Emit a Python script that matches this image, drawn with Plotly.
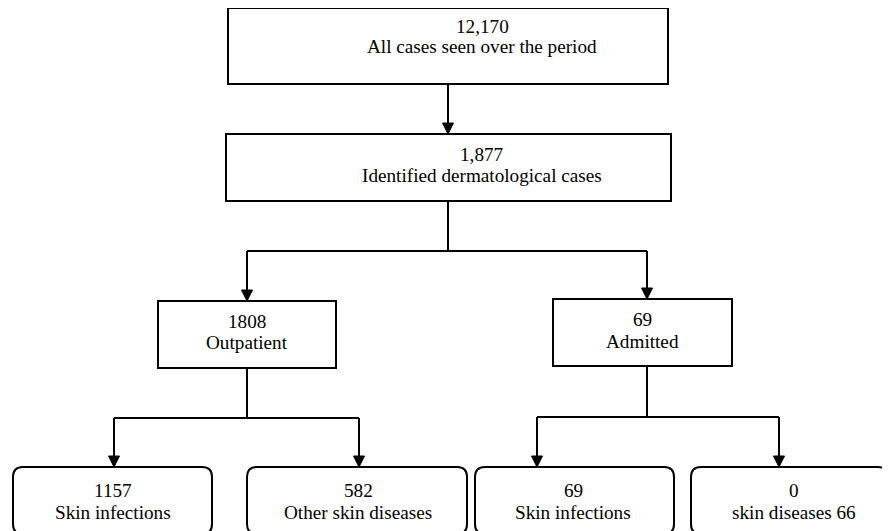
import plotly.graph_objects as go

# ---- data ----
counts = ["12,170", "1,877", "1808", "69", "1157", "582", "69", "0"]
labels = ["All cases seen over the period", "Identified dermatological cases",
          "Outpatient", "Admitted", "Skin infections", "Other skin diseases",
          "Skin infections", "skin diseases 66"]
# parent index -> child indices
links = {0: [1], 1: [2, 3], 2: [4, 5], 3: [6, 7]}

# ---- layout geometry (pixels) ----
W, H = 890, 531
OFF = 8  # page body margin
# x0, x1, y0, y1, rounded, text_x, line1_y, line2_y, arrow_in_x
geom = [
    (228, 668, 8, 84, False, 482, 26, 46, 448),
    (226, 671, 134, 201, False, 482, 154, 175, 448),
    (158, 336, 301, 368, False, 247, 321, 342, 247),
    (553, 732, 299, 366, False, 642, 319, 341, 647),
    (13, 212, 467, 534, True, 113, 490, 512, 114),
    (247, 467, 467, 534, True, 358, 490, 512, 359),
    (475, 674, 467, 534, True, 573, 490, 512, 537),
    (691, 888, 467, 534, True, 794, 490, 512, 779),
]
out_x = {0: 448, 1: 448, 2: 247, 3: 647}
bar_y = {0: None, 1: 251, 2: 418, 3: 417}

LW = 2
FONT = dict(family="Times New Roman, Liberation Serif, DejaVu Serif, serif",
            size=19.2, color="black")

shapes = []
annotations = []


def rounded_path(x0, x1, y0, y1, r=10):
    return (f"M {x0+r},{y0} L {x1-r},{y0} Q {x1},{y0} {x1},{y0+r} "
            f"L {x1},{y1-r} Q {x1},{y1} {x1-r},{y1} L {x0+r},{y1} "
            f"Q {x0},{y1} {x0},{y1-r} L {x0},{y0+r} Q {x0},{y0} {x0+r},{y0} Z")


for i, (x0, x1, y0, y1, rnd, tx, ly1, ly2, ax) in enumerate(geom):
    if rnd:
        shapes.append(dict(type="path", path=rounded_path(x0, x1, y0, y1),
                           line=dict(color="black", width=LW), fillcolor="white",
                           xref="x", yref="y"))
    else:
        shapes.append(dict(type="rect", x0=x0, x1=x1, y0=y0, y1=y1,
                           line=dict(color="black", width=LW), fillcolor="white",
                           xref="x", yref="y"))
    annotations.append(dict(x=tx, y=ly1, text=counts[i], showarrow=False,
                            xanchor="center", yanchor="middle", font=FONT,
                            xref="x", yref="y"))
    annotations.append(dict(x=tx, y=ly2, text=labels[i], showarrow=False,
                            xanchor="center", yanchor="middle", font=FONT,
                            xref="x", yref="y"))


def line(xa, ya, xb, yb):
    shapes.append(dict(type="line", x0=xa, y0=ya, x1=xb, y1=yb,
                       line=dict(color="black", width=LW), xref="x", yref="y"))


def arrowhead(x, ytip, hw=5.5, h=11):
    shapes.append(dict(type="path",
                       path=f"M {x-hw},{ytip-h} L {x+hw},{ytip-h} L {x},{ytip} Z",
                       line=dict(color="black", width=1), fillcolor="black",
                       xref="x", yref="y"))


for p, kids in links.items():
    px = out_x[p]
    py = geom[p][3]
    if len(kids) == 1:
        c = kids[0]
        tip = geom[c][2]
        line(px, py, px, tip - 6)
        arrowhead(px, tip)
    else:
        by = bar_y[p]
        line(px, py, px, by)
        xs = [geom[c][8] for c in kids]
        line(min(xs), by, max(xs), by)
        for c in kids:
            cx = geom[c][8]
            tip = geom[c][2]
            line(cx, by, cx, tip - 6)
            arrowhead(cx, tip)

fig = go.Figure()
fig.update_layout(
    width=W, height=H,
    margin=dict(l=0, r=0, t=0, b=0),
    paper_bgcolor="white", plot_bgcolor="white",
    font=FONT,
    xaxis=dict(range=[OFF, W + OFF], visible=False, fixedrange=True),
    yaxis=dict(range=[H + OFF, OFF], visible=False, fixedrange=True),
    shapes=shapes, annotations=annotations, showlegend=False,
)
fig.write_html("out.html")
